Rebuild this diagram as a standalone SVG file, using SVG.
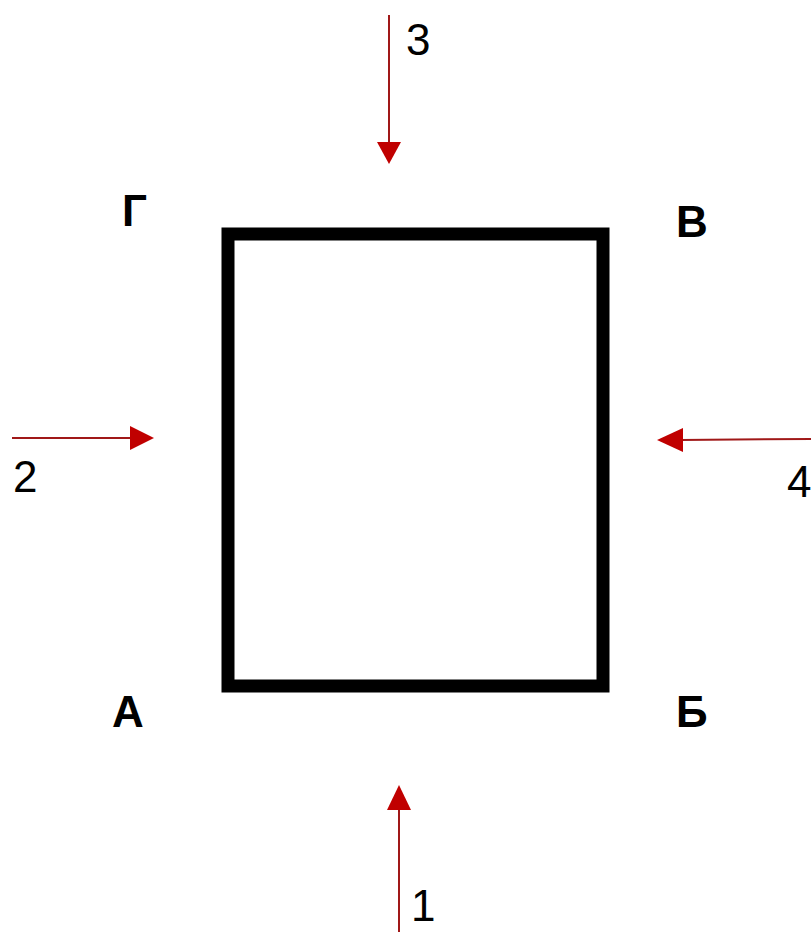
<svg xmlns="http://www.w3.org/2000/svg" width="811" height="932" viewBox="0 0 811 932">
<style>
.ln{stroke:#a01818;stroke-width:2;fill:none}
.hd{fill:#c00000;stroke:none}
.num{font-family:"Liberation Sans",Arial,sans-serif;font-size:44px;fill:#000}
.lbl{font-family:"Liberation Sans",Arial,sans-serif;font-size:44px;font-weight:bold;fill:#000}
</style>
<rect width="811" height="932" fill="#fff"/>
<g id="box"><rect x="228" y="234" width="375" height="452" fill="none" stroke="#000" stroke-width="13"/></g>
<g id="labels">
<text class="lbl" x="122" y="226">Г</text>
<text class="lbl" x="676" y="237">В</text>
<text class="lbl" x="112" y="727">А</text>
<text class="lbl" x="676" y="727">Б</text>
</g>
<g id="connectors">
<line class="ln" x1="389" y1="15" x2="389" y2="145"/>
<polygon class="hd" points="377,142 401,142 389,164"/>
<line class="ln" x1="12" y1="438" x2="132" y2="438"/>
<polygon class="hd" points="130,426 130,450 154,438"/>
<line class="ln" x1="680" y1="440" x2="811" y2="439"/>
<polygon class="hd" points="683,428 683,452 657,440"/>
<line class="ln" x1="399" y1="808" x2="399" y2="932"/>
<polygon class="hd" points="387,810 411,810 399,785"/>
</g>
<g id="numbers">
<text class="num" x="406" y="55">3</text>
<text class="num" x="13" y="492">2</text>
<text class="num" x="787" y="497">4</text>
<text class="num" x="411" y="921">1</text>
</g>
</svg>
